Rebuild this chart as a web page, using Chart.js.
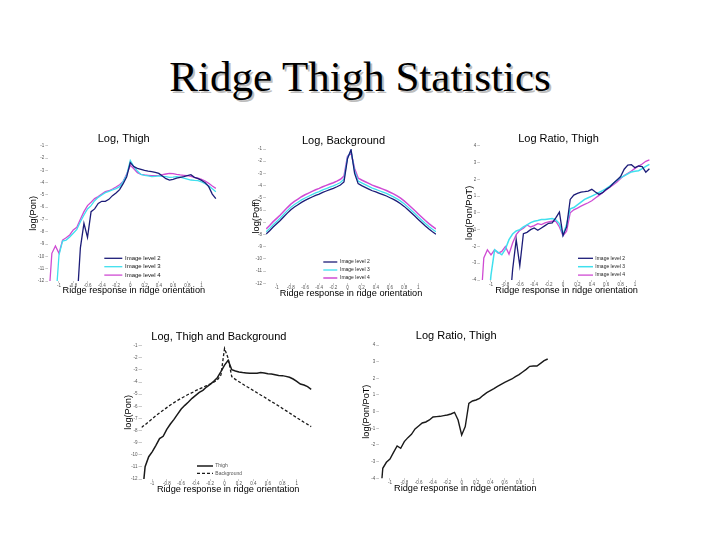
<!DOCTYPE html>
<html>
<head>
<meta charset="utf-8">
<script src="https://cdn.jsdelivr.net/npm/chart.js@4.4.0/dist/chart.umd.min.js"></script>
<style>
  body { margin:0; background:#fff; width:720px; height:540px; position:relative; overflow:hidden; }
  #heading { position:absolute; left:0; top:55px; width:720px; text-align:center;
    font-family:"Liberation Serif","Times New Roman",serif; font-size:43px; line-height:43px;
    color:#000; text-shadow:2px 2px 0 #bdbdbd; }
  .panel { position:absolute; }
</style>
</head>
<body>
<div id="heading">Ridge Thigh Statistics</div>
<div class="panel" id="p1"><canvas id="c1"></canvas></div>
<div class="panel" id="p2"><canvas id="c2"></canvas></div>
<div class="panel" id="p3"><canvas id="c3"></canvas></div>
<div class="panel" id="p4"><canvas id="c4"></canvas></div>
<div class="panel" id="p5"><canvas id="c5"></canvas></div>
<script>
// ridge response bins (x) shared by every panel
const ridgeX = [
  -1.15, -1.1, -1.05, -1, -0.95, -0.9, -0.85, -0.8, -0.75, -0.7,
  -0.65, -0.6, -0.55, -0.5, -0.45, -0.4, -0.35, -0.3, -0.25, -0.2,
  -0.15, -0.1, -0.05, 0, 0.05, 0.1, 0.15, 0.2, 0.25, 0.3,
  0.35, 0.4, 0.45, 0.5, 0.55, 0.6, 0.65, 0.7, 0.75, 0.8,
  0.85, 0.9, 0.95, 1, 1.05, 1.1, 1.15, 1.2, 1.25
];
const xTicks = [-1, -0.8, -0.6, -0.4, -0.2, 0, 0.2, 0.4, 0.6, 0.8, 1];
const logTicks = [-1, -2, -3, -4, -5, -6, -7, -8, -9, -10, -11, -12];
const ratioTicks = [4, 3, 2, 1, 0, -1, -2, -3, -4];
const levelNames = ["Image level 2", "Image level 3", "Image level 4"];

// Log, Thigh
const thighL2 = [
  null, null, null, null, null, null, null, null, -14, -9.3,
  -7.31, -8.45, -6.36, -6.14, -5.69, -5.52, -5.52, -5.36, -5.06, -4.85,
  -4.57, -4.09, -3.52, -2.38, -2.70, -2.84, -2.92, -3.00, -3.06, -3.11,
  -3.17, -3.25, -3.46, -3.68, -3.79, -3.73, -3.63, -3.57, -3.52, -3.44,
  -3.36, -3.57, -3.68, -3.82, -4.01, -4.33, -4.93, -5.31, null
];
const thighL3 = [
  null, null, -14, -9.89, -8.75, -8.67, -8.42, -8.12, -7.80, -7.18,
  -6.63, -6.14, -5.87, -5.47, -5.20, -5.01, -4.82, -4.71, -4.60, -4.49,
  -4.33, -3.92, -3.38, -2.20, -2.70, -3.06, -3.33, -3.41, -3.46, -3.52,
  -3.49, -3.46, -3.49, -3.52, -3.57, -3.55, -3.52, -3.55, -3.63, -3.71,
  -3.79, -3.82, -3.84, -3.95, -4.09, -4.25, -4.49, -4.74, null
];
const thighL4 = [
  -14, -9.75, -9.15, -9.75, -8.67, -8.48, -8.26, -7.85, -7.64, -6.98,
  -6.36, -5.87, -5.60, -5.30, -5.14, -4.93, -4.74, -4.66, -4.52, -4.36,
  -4.17, -3.90, -3.30, -2.60, -2.87, -3.19, -3.33, -3.38, -3.41, -3.44,
  -3.44, -3.41, -3.36, -3.30, -3.25, -3.27, -3.33, -3.38, -3.41, -3.44,
  -3.49, -3.57, -3.63, -3.73, -3.87, -4.06, -4.28, -4.47, null
];

// Log, Background
const bgL2 = [
  -7.97, -7.69, -7.39, -7.12, -6.85, -6.55, -6.25, -5.97, -5.75, -5.56,
  -5.37, -5.21, -5.07, -4.93, -4.80, -4.69, -4.55, -4.44, -4.33, -4.22,
  -4.09, -3.95, -3.70, -1.80, -1.05, -3.00, -3.84, -4.00, -4.14, -4.28,
  -4.42, -4.52, -4.63, -4.74, -4.85, -4.99, -5.13, -5.29, -5.48, -5.70,
  -5.95, -6.22, -6.49, -6.77, -7.04, -7.31, -7.56, -7.78, -7.99
];
const bgL3 = [
  -7.78, -7.50, -7.20, -6.93, -6.65, -6.35, -6.05, -5.77, -5.55, -5.36,
  -5.17, -5.01, -4.87, -4.73, -4.60, -4.49, -4.35, -4.24, -4.13, -4.02,
  -3.89, -3.75, -3.48, -1.70, -1.15, -2.80, -3.62, -3.78, -3.92, -4.06,
  -4.20, -4.31, -4.42, -4.53, -4.64, -4.78, -4.92, -5.08, -5.27, -5.49,
  -5.74, -6.01, -6.28, -6.56, -6.83, -7.10, -7.35, -7.57, -7.78
];
const bgL4 = [
  -7.55, -7.26, -6.95, -6.68, -6.40, -6.10, -5.80, -5.52, -5.29, -5.10,
  -4.91, -4.75, -4.61, -4.47, -4.34, -4.23, -4.09, -3.98, -3.87, -3.76,
  -3.63, -3.48, -3.22, -1.60, -1.30, -2.60, -3.38, -3.54, -3.68, -3.82,
  -3.96, -4.07, -4.18, -4.29, -4.40, -4.54, -4.68, -4.84, -5.03, -5.25,
  -5.50, -5.77, -6.04, -6.32, -6.59, -6.86, -7.11, -7.33, -7.55
];

// Log Ratio, Thigh (per level)
const ratioL2 = [
  null, null, null, null, null, null, null, null, -6, -3.4,
  -1.60, -3.15, -1.24, -1.16, -1.00, -0.90, -1.04, -0.90, -0.76, -0.62,
  -0.60, -0.30, 0.04, -1.36, -0.84, 0.80, 1.06, 1.16, 1.24, 1.26,
  1.30, 1.40, 1.24, 1.10, 1.20, 1.40, 1.54, 1.76, 1.96, 2.16,
  2.60, 2.85, 2.87, 2.69, 2.79, 2.75, 2.42, 2.63, null
];
const ratioL3 = [
  null, null, -6, -3.7, -2.20, -2.36, -2.50, -2.16, -1.60, -1.26,
  -1.08, -1.00, -0.84, -0.72, -0.58, -0.50, -0.46, -0.40, -0.40, -0.36,
  -0.34, -0.42, -0.64, -1.30, -0.70, 0.24, 0.32, 0.48, 0.64, 0.80,
  0.90, 1.00, 1.10, 1.22, 1.32, 1.44, 1.60, 1.76, 1.94, 2.10,
  2.20, 2.32, 2.44, 2.48, 2.51, 2.63, 2.77, 2.89, null
];
const ratioL4 = [
  -6, -2.69, -2.20, -2.50, -2.20, -2.40, -2.30, -2.00, -2.46, -1.80,
  -1.30, -1.04, -0.92, -0.72, -0.84, -0.76, -0.64, -0.70, -0.60, -0.54,
  -0.50, -0.50, -0.84, -1.36, -1.10, 0.00, 0.18, 0.28, 0.40, 0.50,
  0.60, 0.72, 0.88, 1.04, 1.20, 1.36, 1.52, 1.68, 1.84, 2.04,
  2.22, 2.36, 2.49, 2.65, 2.79, 2.91, 3.07, 3.15, null
];

// Log, Thigh and Background
const combThigh = [
  -14, -10.98, -10.16, -9.74, -9.22, -8.67, -8.48, -7.90, -7.46, -7.08,
  -6.64, -6.22, -5.92, -5.65, -5.34, -5.10, -4.85, -4.68, -4.41, -4.19,
  -3.94, -3.64, -3.14, -2.60, -2.20, -2.98, -3.09, -3.17, -3.22, -3.25,
  -3.28, -3.28, -3.28, -3.22, -3.25, -3.31, -3.34, -3.39, -3.45, -3.47,
  -3.53, -3.61, -3.75, -3.94, -4.16, -4.24, -4.38, -4.60, null
];
const combBackground = [
  -7.74, -7.52, -7.27, -7.02, -6.77, -6.55, -6.33, -6.11, -5.89, -5.70,
  -5.51, -5.34, -5.18, -5.01, -4.88, -4.71, -4.57, -4.44, -4.30, -4.16,
  -4.02, -3.83, -3.42, -1.22, -2.04, -3.55, -3.78, -3.97, -4.16, -4.35,
  -4.52, -4.71, -4.88, -5.07, -5.23, -5.43, -5.62, -5.78, -5.97, -6.17,
  -6.36, -6.55, -6.75, -6.94, -7.13, -7.32, -7.49, -7.68, null
];

// Log Ratio, Thigh (combined)
const ratioThigh = [
  -6, -3.40, -3.04, -2.84, -2.44, -2.06, -2.20, -1.80, -1.56, -1.36,
  -1.04, -0.86, -0.68, -0.62, -0.50, -0.32, -0.30, -0.28, -0.24, -0.20,
  -0.14, -0.04, -0.50, -1.40, -0.90, 0.50, 0.64, 0.70, 0.80, 0.98,
  1.14, 1.26, 1.38, 1.52, 1.64, 1.76, 1.86, 1.96, 2.10, 2.22,
  2.38, 2.54, 2.72, 2.74, 2.74, 2.90, 3.06, 3.16, null
];

const NAVY = "#1c1c78", CYAN = "#3fe0ee", MAGENTA = "#cf4bd3", INK = "#1a1a1a";
Chart.defaults.font.family = '"Liberation Sans", Arial, sans-serif';

// legend drawn inside the plot, like the matlab figures
const insideLegend = {
  id: "insideLegend",
  afterDatasetsDraw(chart, args, opts){
    if(!opts.display) return;
    const ctx = chart.ctx, area = chart.chartArea;
    ctx.save();
    ctx.font = opts.fontSize + 'px "Liberation Sans", Arial, sans-serif';
    ctx.textBaseline = "middle";
    chart.data.datasets.forEach((ds, i) => {
      const x = area.left + opts.left;
      const y = area.top + opts.top + i * opts.rowGap;
      ctx.beginPath();
      ctx.strokeStyle = ds.borderColor;
      ctx.lineWidth = ds.borderWidth;
      ctx.setLineDash(ds.borderDash || []);
      ctx.moveTo(x, y);
      ctx.lineTo(x + opts.lineLen, y);
      ctx.stroke();
      ctx.setLineDash([]);
      ctx.fillStyle = opts.color;
      ctx.fillText(ds.label, x + opts.lineLen + opts.gap, y);
    });
    ctx.restore();
  }
};

function series(label, values, color, dash, width){
  return {
    label: label,
    data: ridgeX.map((x, i) => ({x: x, y: values[i]})),
    borderColor: color,
    borderWidth: width || 1.3,
    borderDash: dash || [],
    pointRadius: 0,
    tension: 0,
    fill: false
  };
}

function makePanel(id, box, cfg){
  const p = document.getElementById("p" + id);
  p.style.left = box.left + "px";
  p.style.top = box.top + "px";
  p.style.width = box.w + "px";
  p.style.height = box.h + "px";
  const yTicks = cfg.yTicks;
  new Chart(document.getElementById("c" + id), {
    type: "line",
    data: {datasets: cfg.datasets},
    plugins: [insideLegend],
    options: {
      responsive: true,
      maintainAspectRatio: false,
      animation: false,
      layout: {padding: {left: 0, top: 0, bottom: 0, right: box.pr}},
      plugins: {
        legend: {display: false},
        tooltip: {enabled: false},
        title: {display: true, text: cfg.title, color: "#000",
          font: {size: 11, weight: "normal"}, padding: {top: 0, bottom: box.tpad}},
        insideLegend: cfg.legend || {display: false}
      },
      scales: {
        x: {
          type: "linear", min: -1.15, max: 1.25,
          afterBuildTicks: s => { s.ticks = xTicks.map(v => ({value: v})); },
          afterFit: s => { s.height = box.xh; },
          grid: {drawOnChartArea: false, tickLength: 2, color: "#aaa", lineWidth: 0.6},
          border: {display: false},
          ticks: {font: {size: 4.5}, color: "#555", padding: 0, maxRotation: 0, autoSkip: false,
            callback: v => String(v)},
          title: {display: true, text: "Ridge response in ridge orientation", color: "#000",
            font: {size: 9.2}, padding: 0}
        },
        y: {
          type: "linear", min: Math.min(...yTicks), max: Math.max(...yTicks),
          afterBuildTicks: s => { s.ticks = yTicks.map(v => ({value: v})); },
          afterFit: s => { s.width = box.yw; },
          grid: {drawOnChartArea: false, tickLength: 3, color: "#aaa", lineWidth: 0.6},
          border: {display: false},
          ticks: {font: {size: 4.5}, color: "#555", padding: 1, autoSkip: false,
            callback: v => String(v)},
          title: {display: true, text: cfg.yTitle, color: "#000",
            font: {size: 9.2}, padding: 0}
        }
      }
    }
  });
}

makePanel(1, {left: 28, top: 132, w: 208, h: 164, yw: 20.3, xh: 15, tpad: 0.5, pr: 16.6}, {
  title: "Log, Thigh", yTitle: "log(Pon)", yTicks: logTicks,
  datasets: [series(levelNames[0], thighL2, NAVY), series(levelNames[1], thighL3, CYAN), series(levelNames[2], thighL4, MAGENTA)],
  legend: {display: true, left: 56, top: 112.6, rowGap: 8.4, lineLen: 18, gap: 2.7, fontSize: 6, color: "#111"}
});

makePanel(2, {left: 251, top: 134, w: 198, h: 165, yw: 15.1, xh: 15.7, tpad: 1.8, pr: 13}, {
  title: "Log, Background", yTitle: "log(Poff)", yTicks: logTicks,
  datasets: [series(levelNames[0], bgL2, NAVY), series(levelNames[1], bgL3, CYAN), series(levelNames[2], bgL4, MAGENTA, null, 1.5)],
  legend: {display: true, left: 57.2, top: 113, rowGap: 8, lineLen: 14, gap: 2.7, fontSize: 5, color: "#222"}
});

makePanel(3, {left: 464, top: 132, w: 208, h: 164, yw: 16.2, xh: 16, tpad: 0.5, pr: 19}, {
  title: "Log Ratio, Thigh", yTitle: "log(Pon/PoT)", yTicks: ratioTicks,
  datasets: [series(levelNames[0], ratioL2, NAVY), series(levelNames[1], ratioL3, CYAN, null, 1.5), series(levelNames[2], ratioL4, MAGENTA)],
  legend: {display: true, left: 97.8, top: 112.6, rowGap: 8.4, lineLen: 15, gap: 2.3, fontSize: 5, color: "#222"}
});

makePanel(4, {left: 123, top: 330, w: 206, h: 165, yw: 18.5, xh: 16, tpad: 2.5, pr: 14.2}, {
  title: "Log, Thigh and Background", yTitle: "log(Pon)", yTicks: logTicks,
  datasets: [series("Thigh", combThigh, INK, null, 1.5), series("Background", combBackground, INK, [3, 2], 1.3)],
  legend: {display: true, left: 55.5, top: 120.3, rowGap: 7.3, lineLen: 16, gap: 2.3, fontSize: 5, color: "#555"}
});

makePanel(5, {left: 361, top: 329, w: 204, h: 165, yw: 18.2, xh: 15.7, tpad: 2.8, pr: 13.7}, {
  title: "Log Ratio, Thigh", yTitle: "log(Pon/PoT)", yTicks: ratioTicks,
  datasets: [series("Thigh", ratioThigh, INK, null, 1.4)]
});
</script>
</body>
</html>
